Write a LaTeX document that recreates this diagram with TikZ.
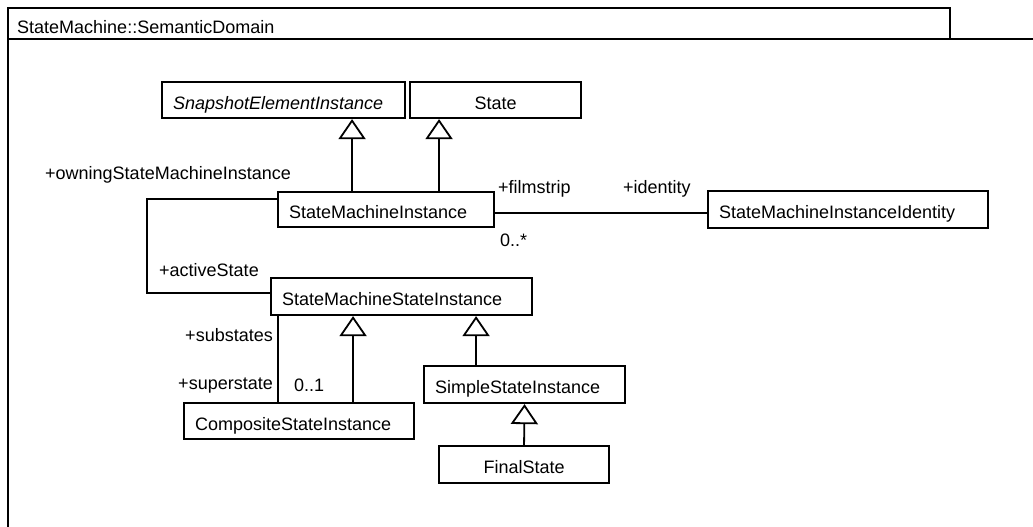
\documentclass[tikz,border=0pt]{standalone}
\usepackage{fontspec}
\setmainfont{Liberation Sans}
\usetikzlibrary{arrows.meta}

\begin{document}
\begin{tikzpicture}[x=1pt,y=-1pt,>={Triangle[open,length=20pt,width=27pt]},
  every node/.style={font=\fontsize{18pt}{21pt}\selectfont},
  cls/.style={draw,line width=2.1pt,anchor=north west,inner xsep=11pt,inner ysep=0pt,text height=18pt,text depth=0pt,align=left,minimum height=37pt},
  lbl/.style={anchor=base west,inner sep=0pt},
  assoc/.style={line width=1.8pt}]

\useasboundingbox (0,0) rectangle (1033,527);
\draw[line width=2pt] (8,527) -- (8,8) -- (950,8) -- (950,39);
\draw[line width=2pt] (8,39) -- (1033,39);
\node[lbl] (title) at (17,34) {StateMachine::SemanticDomain};

\node[cls,text width=221pt,minimum height=36pt] (snap) at (161,81) {\itshape SnapshotElementInstance};
\node[cls,text width=149pt,minimum height=36pt,align=center] (state) at (409,81) {State};
\node[cls,text width=194pt,minimum height=35pt] (smi) at (277,191) {StateMachineInstance};
\node[cls,text width=258pt] (smiid) at (707,190) {StateMachineInstanceIdentity};
\node[cls,text width=239pt] (smsi) at (270,277) {StateMachineStateInstance};
\node[cls,text width=208pt,minimum height=36pt] (comp) at (183,402) {CompositeStateInstance};
\node[cls,text width=179pt] (ssi) at (423,365) {SimpleStateInstance};
\node[cls,text width=148pt,align=center] (final) at (438,445) {FinalState};

%generalizations
\coordinate (g1) at ([xshift=-34pt]smi.north);
\coordinate (g2) at ([xshift=53pt]smi.north);
\coordinate (g3) at ([xshift=54pt]comp.north);
\coordinate (g4) at ([xshift=-48.5pt]ssi.north);
\draw[assoc,->] (g1) -- (g1 |- snap.south);
\draw[assoc,->] (g2) -- (g2 |- state.south);
\draw[assoc,->] (g3) -- (g3 |- smsi.south);
\draw[assoc,->] (g4) -- (g4 |- smsi.south);
\draw[assoc,->] (final.north) -- (ssi.south);

%associations
\draw[assoc] ([yshift=-3.5pt]smi.east) -- ([yshift=-3.5pt]smiid.west);
\coordinate (bendL) at (147,250);
\draw[assoc] ([yshift=10.5pt]smi.west) -| (bendL) |- ([yshift=3.5pt]smsi.west);
\coordinate (subs) at ([xshift=8pt]smsi.south west);
\draw[assoc] (subs) -- (subs |- comp.north);

\node[lbl] (owning) at (45,179) {+owningStateMachineInstance};
\node[lbl] (film) at (498,193) {+filmstrip};
\node[lbl] (ident) at (623,193) {+identity};
\node[lbl] (many) at (500,246) {0..*};
\node[lbl] (active) at (159,276) {+activeState};
\node[lbl,anchor=base east] (subst) at (273,341) {+substates};
\node[lbl,anchor=base east] (super) at (273,389) {+superstate};
\node[lbl] (opt) at (294,391) {0..1};
\end{tikzpicture}
\end{document}
